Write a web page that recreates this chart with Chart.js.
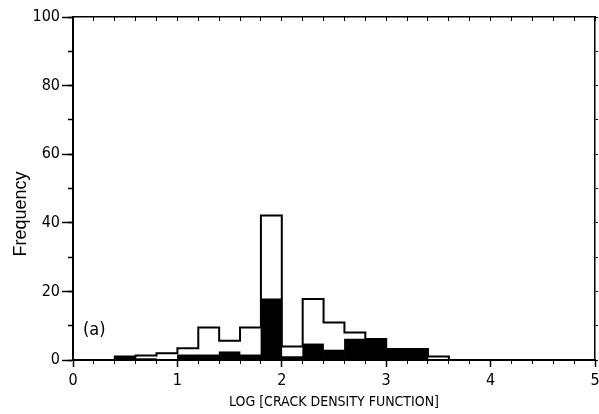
<!DOCTYPE html>
<html>
<head>
<meta charset="utf-8">
<script src="https://cdn.jsdelivr.net/npm/chart.js@4.4.1/dist/chart.umd.min.js"></script>
<style>
  html, body { margin: 0; padding: 0; background: #fff; overflow: hidden; }
  #wrap { width: 599px; height: 414px; position: relative; }
</style>
</head>
<body>
<div id="wrap"><canvas id="crackChart"></canvas></div>
<script>
// histogram bins (left edge), bin width 0.2 in log units
const binStart = [0.4, 0.6, 0.8, 1.0, 1.2, 1.4, 1.6, 1.8, 2.0, 2.2, 2.4, 2.6, 2.8, 3.0, 3.2, 3.4];
const binWidth = 0.2;
// open outline histogram (all cracks)
const totalFreq = [1.0, 1.3, 2.0, 3.4, 9.5, 5.6, 9.5, 42.1, 3.9, 17.8, 10.9, 8.0, 6.1, 3.2, 3.2, 1.0];
// filled black histogram
const filledFreq = [1.0, 0.4, 0, 1.5, 1.5, 2.4, 1.5, 17.8, 1.0, 4.7, 2.9, 6.1, 6.1, 3.2, 3.2, 0];

const xTitle = 'LOG [CRACK DENSITY FUNCTION]';
const yTitle = 'Frequency';
const panelLabel = '(a)';

// step outline points built from the bins
const outline = [{ x: binStart[0], y: 0 }];
binStart.forEach((b, i) => outline.push({ x: b, y: totalFreq[i] }));
outline.push({ x: binStart[binStart.length - 1] + binWidth, y: 0 });

const filledBars = binStart.map((b, i) => ({ x: b + binWidth / 2, y: filledFreq[i] }));

// find a condensed font if one is installed
function hasFont(name) {
    const c = document.createElement('canvas').getContext('2d');
    const s = 'LOG CRACK DENSITY 0123456789';
    c.font = '20px monospace';
    const a = c.measureText(s).width;
    c.font = "20px '" + name + "', monospace";
    return Math.abs(c.measureText(s).width - a) > 0.5;
}
const narrowCandidates = ['Liberation Sans Narrow', 'DejaVu Sans Condensed', 'Roboto Condensed', 'Arial Narrow'];
const narrow = narrowCandidates.find(hasFont);
const tickFamily = narrow ? "'" + narrow + "'" : "'Liberation Sans'";
const tickSize = narrow === 'Liberation Sans Narrow' ? 18 : 16;
const titleSize = narrow === 'Liberation Sans Narrow' ? 16 : 14;

Chart.defaults.font.family = tickFamily + ", sans-serif";
Chart.defaults.color = '#000';

const extraText = {
    id: 'extraText',
    afterDraw(chart) {
        const ctx = chart.ctx;
        ctx.save();
        ctx.fillStyle = '#000';
        // y title
        ctx.font = "18px 'Liberation Sans', sans-serif";
        ctx.translate(26, 214);
        ctx.rotate(-Math.PI / 2);
        ctx.textAlign = 'center';
        ctx.textBaseline = 'alphabetic';
        ctx.fillText(yTitle, 0, 0);
        ctx.restore();

        ctx.save();
        ctx.fillStyle = '#000';
        ctx.font = "18px " + tickFamily + ", sans-serif";
        ctx.textAlign = 'left';
        ctx.textBaseline = 'middle';
        ctx.fillText(panelLabel, 83, 330);
        ctx.restore();
    }
};

const noPad = (scale) => {
    scale.paddingLeft = 0;
    scale.paddingRight = 0;
    scale.paddingTop = 0;
    scale.paddingBottom = 0;
};

new Chart(document.getElementById('crackChart'), {
    type: 'bar',
    data: {
        datasets: [
            {
                type: 'line',
                data: outline,
                stepped: true,
                borderColor: '#000',
                borderWidth: 2,
                pointRadius: 0,
                fill: false,
                xAxisID: 'x',
                yAxisID: 'y',
                order: 2
            },
            {
                data: filledBars,
                backgroundColor: '#000',
                borderWidth: 0,
                barPercentage: 1,
                categoryPercentage: 1,
                xAxisID: 'x',
                yAxisID: 'y',
                order: 1
            }
        ]
    },
    options: {
        responsive: true,
        maintainAspectRatio: false,
        animation: false,
        layout: { padding: 0 },
        plugins: { legend: { display: false }, tooltip: { enabled: false } },
        scales: {
            x: {
                type: 'linear', position: 'bottom', weight: 1,
                min: 0, max: 5, offset: false,
                grid: { offset: false, drawOnChartArea: false, tickLength: 7, tickColor: '#000', tickWidth: 1.5 },
                border: { display: true, color: '#000', width: 2 },
                ticks: { stepSize: 1, autoSkip: false, maxRotation: 0, padding: 4, font: { size: tickSize } },
                title: { display: true, text: xTitle, font: { size: titleSize }, padding: { top: 0, bottom: 3 } },
                afterFit: (s) => { noPad(s); s.height = 54; }
            },
            xMinor: {
                type: 'linear', position: 'bottom', weight: 0,
                min: 0, max: 5, offset: false,
                grid: { offset: false, drawOnChartArea: true, color: '#000', lineWidth: 1, tickLength: 4, tickColor: '#000' },
                border: { display: true, color: '#000', width: 2, dash: [4, 2000] },
                ticks: { stepSize: 0.2, display: false, autoSkip: false },
                afterFit: (s) => { noPad(s); s.height = 0; }
            },
            xTop: {
                type: 'linear', position: 'top',
                min: 0, max: 5, offset: false,
                grid: { display: false, drawTicks: false },
                border: { display: true, color: '#000', width: 1.5 },
                ticks: { display: false },
                afterFit: (s) => { noPad(s); s.height = 17; }
            },
            y: {
                type: 'linear', position: 'left', weight: 1,
                min: 0, max: 100,
                grid: { drawOnChartArea: false, tickLength: 11, tickColor: '#000', tickWidth: 1.5 },
                border: { display: true, color: '#000', width: 2 },
                ticks: { stepSize: 20, padding: 2, font: { size: tickSize } },
                afterFit: (s) => { noPad(s); s.width = 73; }
            },
            yMinor: {
                type: 'linear', position: 'left', weight: 0,
                min: 0, max: 100,
                grid: { drawOnChartArea: false, tickLength: 5, tickColor: '#000', tickWidth: 1.5 },
                border: { display: true, color: '#000', width: 2 },
                ticks: { stepSize: 10, display: false },
                afterFit: (s) => { noPad(s); s.width = 0; }
            },
            yRight: {
                type: 'linear', position: 'right',
                min: 0, max: 100,
                grid: { drawOnChartArea: false, tickLength: 3, tickColor: '#000' },
                border: { display: true, color: '#000', width: 1.5 },
                ticks: { stepSize: 10, display: false },
                afterFit: (s) => { noPad(s); s.width = 4; }
            }
        }
    },
    plugins: [extraText]
});
</script>
</body>
</html>
